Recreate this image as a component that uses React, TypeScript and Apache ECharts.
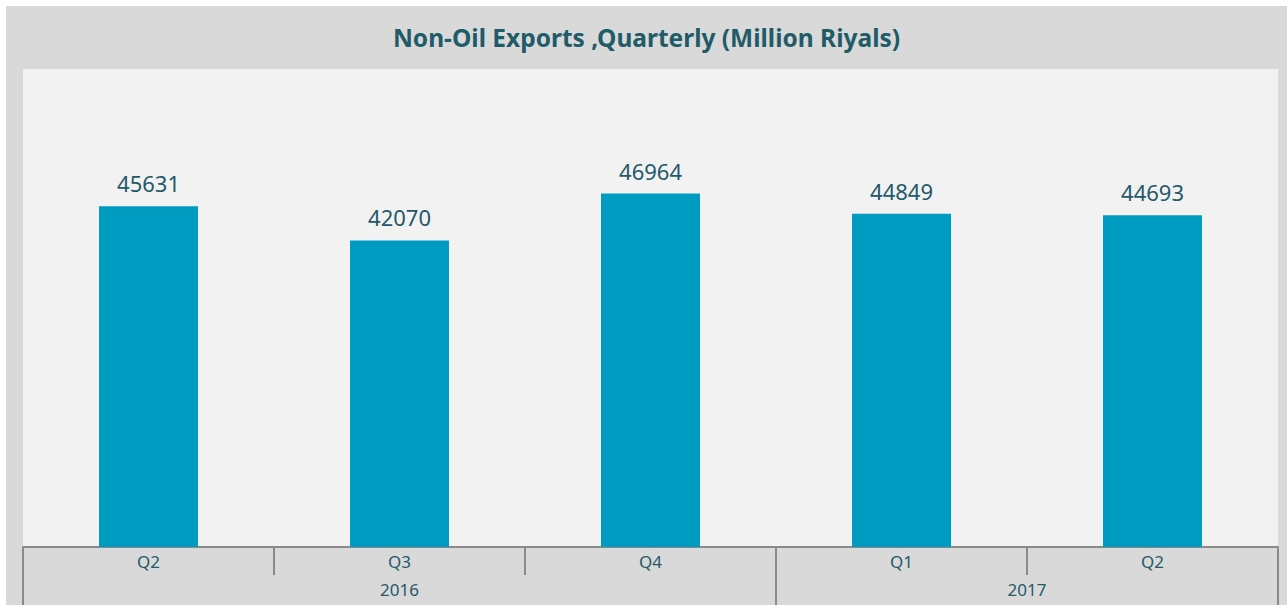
import React, { useEffect, useRef } from "react";
import * as echarts from "echarts";

const titleText = "Non-Oil Exports ,Quarterly (Million Riyals)";
const categories = ["Q2", "Q3", "Q4", "Q1", "Q2"];
const values = [45631, 42070, 46964, 44849, 44693];
const yearLabels = ["2016", "2017"];
const yearLabelPositions = [1.5, 4];
const yearBoundaries = [0, 3, 5];

const TEXT = "#24596a";
const AXIS = "#8a8a8a";

export default function App() {
  const ref = useRef<HTMLDivElement>(null);
  useEffect(() => {
    if (!ref.current) return;
    const chart = echarts.init(ref.current, null, { renderer: "svg" });
    chart.setOption({
      animation: false,
      backgroundColor: "#d9d9d9",
      title: {
        text: titleText,
        left: "center",
        top: 14,
        textStyle: {
          color: "#1f5c68",
          fontSize: 24.5,
          fontWeight: "bold",
          fontFamily: "Noto Sans",
        },
      },
      grid: {
        left: 17,
        right: 9,
        top: 63,
        bottom: 58,
        show: true,
        backgroundColor: "#f2f2f2",
        borderWidth: 0,
      },
      xAxis: [
        {
          type: "category",
          data: categories,
          position: "bottom",
          axisLine: { show: true, onZero: false, lineStyle: { color: AXIS, width: 2 } },
          axisTick: { show: true, interval: 0, length: 28, lineStyle: { color: AXIS, width: 2 } },
          axisLabel: { color: TEXT, fontSize: 17, fontFamily: "Noto Sans", margin: 6 },
        },
        {
          type: "value",
          min: 0,
          max: 5,
          position: "bottom",
          axisLine: { show: false, onZero: false },
          splitLine: { show: false },
          axisTick: {
            show: true,
            customValues: yearBoundaries,
            length: 58,
            lineStyle: { color: AXIS, width: 2 },
          },
          axisLabel: {
            show: true,
            customValues: yearLabelPositions,
            formatter: (v: number) => {
              const i = yearLabelPositions.indexOf(v);
              return i >= 0 ? yearLabels[i] : "";
            },
            color: TEXT,
            fontSize: 17,
            fontFamily: "Noto Sans",
            margin: 34,
          },
        },
      ],
      yAxis: {
        type: "value",
        min: 10000,
        max: 60000,
        show: false,
        splitLine: { show: false },
      },
      series: [
        {
          type: "bar",
          xAxisIndex: 0,
          data: values,
          barWidth: 99,
          itemStyle: { color: "#009bc1" },
          label: {
            show: true,
            position: "top",
            distance: 12,
            color: TEXT,
            fontSize: 22,
            fontFamily: "Noto Sans",
          },
        },
      ],
    });
    return () => chart.dispose();
  }, []);
  return (
    <div
      ref={ref}
      style={{ position: "absolute", left: 6, top: 6, width: 1281, height: 599 }}
    />
  );
}
